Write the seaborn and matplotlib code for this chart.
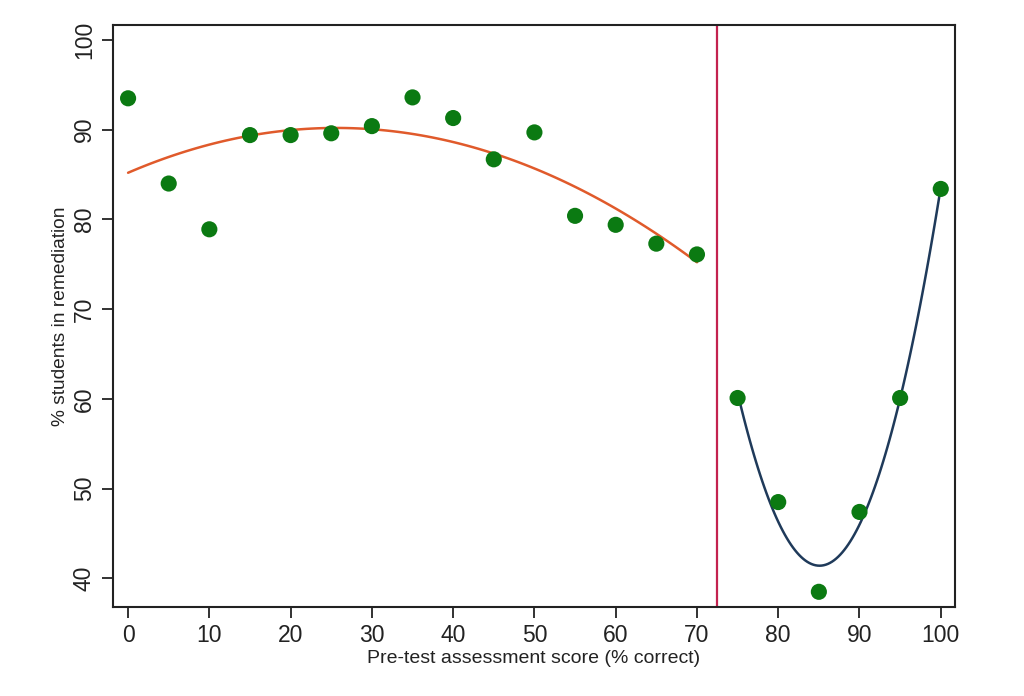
import matplotlib
matplotlib.use("Agg")
import matplotlib.pyplot as plt
import seaborn as sns
import pandas as pd
import numpy as np

# Data
scores = [0, 5, 10, 15, 20, 25, 30, 35, 40, 45, 50, 55, 60, 65, 70,
          75, 80, 85, 90, 95, 100]
pct_remediation = [93.5, 84.0, 78.9, 89.4, 89.4, 89.6, 90.4, 93.6, 91.3, 86.7,
                   89.7, 80.4, 79.4, 77.3, 76.1,
                   60.1, 48.5, 38.5, 47.4, 60.1, 83.4]
cutoff = 72.5
x_ticks = [0, 10, 20, 30, 40, 50, 60, 70, 80, 90, 100]
y_ticks = [40, 50, 60, 70, 80, 90, 100]

df = pd.DataFrame({"score": scores, "pct": pct_remediation})
below = df[df["score"] < cutoff]
above = df[df["score"] > cutoff]

sns.set_theme(style="white")
plt.rcParams["font.family"] = ["Liberation Sans", "DejaVu Sans"]

fig = plt.figure(figsize=(10.24, 6.96), dpi=100)
ax = fig.add_axes([0.110, 0.1274, 0.823, 0.8367])

sns.regplot(data=below, x="score", y="pct", order=2, ci=None, scatter=False,
            truncate=True, ax=ax, line_kws={"color": "#E05A2B", "lw": 1.8})
sns.regplot(data=above, x="score", y="pct", order=2, ci=None, scatter=False,
            truncate=True, ax=ax, line_kws={"color": "#1F3A5A", "lw": 1.8})
sns.scatterplot(data=df, x="score", y="pct", ax=ax, color="#0B7A12", s=135,
                edgecolor="none", zorder=3)
ax.axvline(cutoff, color="#C3224F", lw=1.6)

ax.set_xlim(-1.9, 101.8)
ax.set_ylim(36.77, 101.67)
ax.set_xticks(x_ticks)
ax.set_yticks(y_ticks)
ax.tick_params(axis="both", which="both", direction="out", length=8, width=1.3,
               color="#222222", labelsize=16.5, labelcolor="#222222",
               bottom=True, left=True)
ax.tick_params(axis="x", pad=4)
ax.tick_params(axis="y", pad=4)
for lab in ax.get_yticklabels():
    lab.set_rotation(90)
    lab.set_va("center")

ax.set_xlabel("Pre-test assessment score (% correct)", fontsize=14,
              color="#222222", labelpad=2)
ax.set_ylabel("% students in remediation", fontsize=13.8, color="#222222",
              labelpad=3)

for sp in ax.spines.values():
    sp.set_visible(True)
    sp.set_color("#222222")
    sp.set_linewidth(1.5)

fig.savefig("out.png", dpi=100, facecolor="white")
